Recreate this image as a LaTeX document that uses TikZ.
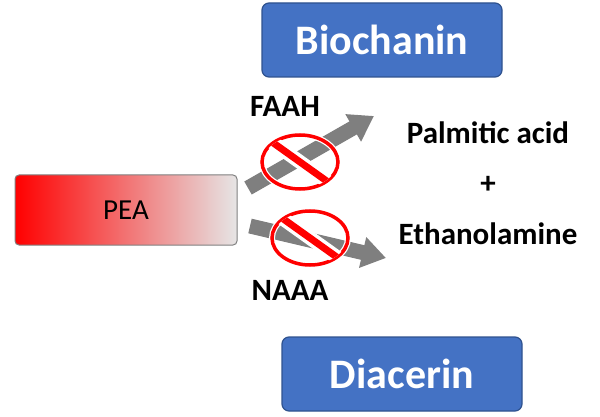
\documentclass[tikz,border=0pt]{standalone}
\usepackage{fontspec}
\setmainfont{Carlito}
\usetikzlibrary{arrows.meta}
\definecolor{bblue}{HTML}{4472C4}
\definecolor{bedge}{HTML}{2F528F}
\definecolor{agray}{HTML}{7F7F7F}
\begin{document}
\begin{tikzpicture}[x=1pt,y=-1pt,
  bluebox/.style={draw=bedge,line width=1.2pt,fill=bblue,rounded corners=7pt,minimum width=240pt,minimum height=74pt,text=white,font=\fontsize{42}{42}\selectfont\bfseries},
  lbl/.style={font=\fontsize{31}{32}\selectfont\bfseries,text=black},
  arr/.style={-{Triangle[length=24pt,width=30pt]},line width=15pt,draw=agray},
  ban/.pic={
    \draw[white,line width=6pt] (0,0) ellipse (38 and 27);
    \draw[red,line width=3.5pt] (0,0) ellipse (38 and 27);
    \begin{scope}
      \clip (0,0) ellipse (37 and 26);
      \draw[white,line width=14pt] (-28,-20) -- (28,20);
      \draw[red,line width=7pt] (-28,-20) -- (28,20);
    \end{scope}
  }]
\useasboundingbox (0,0) rectangle (600,417);
\node[bluebox] (bio) at (382,40) {Biochanin};
\node[bluebox] (dia) at (402,374) {Diacerin};
\shade[left color=red,right color=gray!20,rounded corners=4pt] (15,175) rectangle (237,245);
\draw[gray,line width=1pt,rounded corners=4pt] (15,175) rectangle (237,245);
\node[font=\fontsize{29}{29}\selectfont] (pea) at (126,210) {PEA};
\coordinate (a1s) at (248,188);
\coordinate (a1e) at (374,116);
\coordinate (a2s) at (250,226);
\coordinate (a2e) at (386,258);
\draw[arr] (a1s) -- (a1e);
\draw[arr] (a2s) -- (a2e);
\pic at (300,162) {ban};
\pic at (310,238) {ban};
\node[lbl] (faah) at (285,106) {FAAH};
\node[lbl] (naaa) at (290,290) {NAAA};
\node[lbl] (pa) at (488,133) {Palmitic acid};
\node[lbl] (plus) at (488,185) {+};
\node[lbl] (eth) at (488,234) {Ethanolamine};
\end{tikzpicture}
\end{document}
